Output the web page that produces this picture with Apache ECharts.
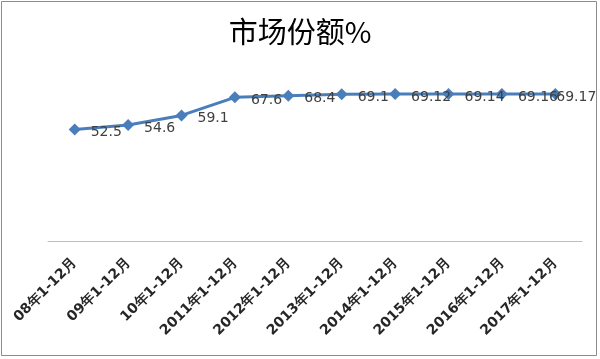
<!DOCTYPE html>
<html><head><meta charset="utf-8">
<script src="https://cdn.jsdelivr.net/npm/echarts@6/dist/echarts.min.js"></script>
<style>html,body{margin:0;padding:0;background:#fff}#c{width:600px;height:359px}</style>
</head><body><div id="c"></div>
<script>
const categories = ['08年1-12月','09年1-12月','10年1-12月','2011年1-12月','2012年1-12月','2013年1-12月','2014年1-12月','2015年1-12月','2016年1-12月','2017年1-12月'];
const values = [52.5, 54.6, 59.1, 67.6, 68.4, 69.1, 69.12, 69.14, 69.16, 69.17];
const titleText = '市场份额%';

const seriesData = values.map((v, i) => i === values.length - 1
  ? {value: v, label: {offset: [-15, 3]}}
  : v);

const chart = echarts.init(document.getElementById('c'));
chart.setOption({
  animation: false,
  backgroundColor: '#fff',
  graphic: [{type:'rect', shape:{x:1.5,y:1.5,width:595,height:354}, style:{fill:'none', stroke:'#8c8c8c', lineWidth:1}}],
  title: {text: titleText, left: 'center', top: 12, textStyle:{fontFamily:'Noto Sans CJK SC', fontSize:29, fontWeight:'normal', color:'#000'}},
  grid: {left: 48, right: 18, top: 71, bottom: 118},
  xAxis: {
    type: 'category', data: categories, boundaryGap: true,
    axisLine: {lineStyle:{color:'#bfbfbf', width:1}},
    axisTick: {show:false},
    axisLabel: {rotate:45, margin:20, interval:0, color:'#262626', fontSize:14, fontWeight:'bold', fontFamily:'DejaVu Sans'}
  },
  yAxis: {type:'value', min:0, max:80, show:false, splitLine:{show:false}},
  series: [{
    type:'line', data: seriesData, symbol:'diamond', symbolSize:12,
    lineStyle:{color:'#4a7ebb', width:3}, itemStyle:{color:'#4a7ebb'},
    label:{show:true, position:'right', distance:10, offset:[0,3], color:'#404040', fontSize:14, fontFamily:'DejaVu Sans'}
  }]
});
</script></body></html>
